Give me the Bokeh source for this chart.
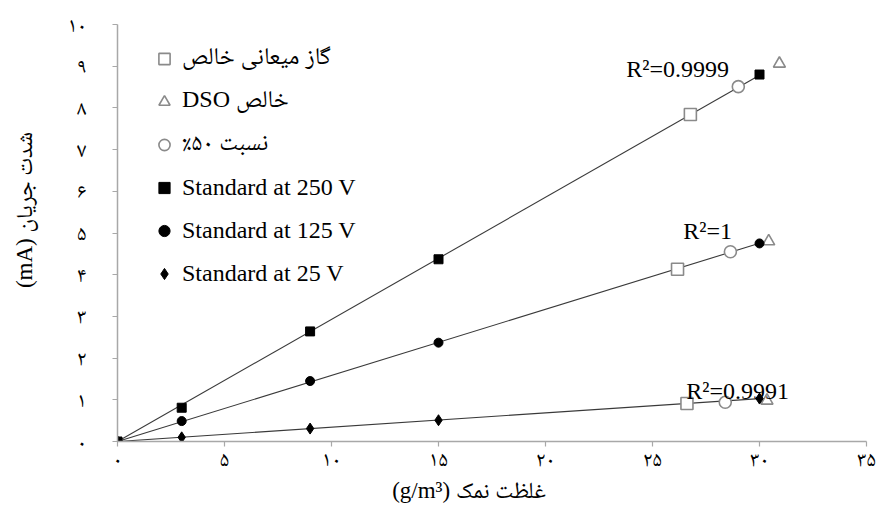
from bokeh.plotting import figure
from bokeh.models import Range1d, FixedTicker, Label, Legend, LegendItem
from bokeh.embed import file_html
from bokeh.resources import INLINE
import numpy as np

# ---- data ----
conc_std = [0, 3, 9, 15, 30]
i_250 = [0, 0.81, 2.64, 4.37, 8.80]
i_125 = [0, 0.49, 1.45, 2.37, 4.75]
i_25 = [0, 0.10, 0.31, 0.51, 1.03]

gas_x = [26.77, 26.17, 26.61]
gas_y = [7.84, 4.13, 0.91]
dso_x = [30.93, 30.43, 30.35]
dso_y = [9.06, 4.80, 0.98]
mix_x = [29.01, 28.64, 28.40]
mix_y = [8.51, 4.55, 0.94]

x_ticks = [0, 5, 10, 15, 20, 25, 30, 35]
x_tick_labels = ["۰", "۵", "۱۰", "۱۵", "۲۰", "۲۵", "۳۰", "۳۵"]
y_ticks = [0, 1, 2, 3, 4, 5, 6, 7, 8, 9, 10]
y_tick_labels = ["۰", "۱", "۲", "۳", "۴", "۵", "۶", "۷", "۸", "۹", "۱۰"]

legend_labels = ["گاز میعانی خالص", "DSO خالص", "٪۵۰ نسبت",
                 "Standard at 250 V", "Standard at 125 V", "Standard at 25 V"]
r2_texts = ["R²=0.9999", "R²=1", "R²=0.9991"]

FONT = "'Liberation Serif', 'Noto Naskh Arabic', 'Noto Serif', 'DejaVu Serif', serif"
GRAY = "#8a8a8a"
NB = "\u00a0"

p = figure(frame_width=749, frame_height=417,
           x_range=Range1d(0, 35), y_range=Range1d(0, 10),
           output_backend="svg", toolbar_location=None,
           min_border_left=117, min_border_right=17,
           min_border_top=24, min_border_bottom=62)
p.grid.visible = False
p.outline_line_color = None
p.background_fill_color = "white"
p.border_fill_color = "white"

# trend lines (least squares through origin)
xs = np.array(conc_std, dtype=float)
for ys in (i_250, i_125, i_25):
    ys = np.array(ys, dtype=float)
    k = float((xs * ys).sum() / (xs * xs).sum())
    xl = [xs.min(), xs.max()]
    p.line(xl, [k * v for v in xl], line_color="#3a3a3a", line_width=1.1)

r_gas = p.scatter(gas_x, gas_y, marker="square", size=12, fill_color="white",
                  line_color=GRAY, line_width=1.6)
r_dso = p.scatter(dso_x, dso_y, marker="triangle", size=12, fill_color="white",
                  line_color=GRAY, line_width=1.6)
r_mix = p.scatter(mix_x, mix_y, marker="circle", size=12, fill_color="white",
                  line_color=GRAY, line_width=1.6)
r_250 = p.scatter(conc_std, i_250, marker="square", size=9, color="black")
r_125 = p.scatter(conc_std, i_125, marker="circle", size=9, color="black")
r_25 = p.scatter(conc_std, i_25, marker="diamond", size=11, color="black")

items = [LegendItem(label=lab, renderers=[r]) for lab, r in
         zip(legend_labels, [r_gas, r_dso, r_mix, r_250, r_125, r_25])]
leg = Legend(items=items, location=(33, 146), margin=0, padding=0,
             glyph_width=28, glyph_height=43, label_height=43, spacing=0,
             label_standoff=4, label_text_font=FONT, label_text_font_size="24px",
             label_text_color="black", border_line_color=None,
             background_fill_alpha=0)
p.add_layout(leg, "center")

for txt, x, y in zip(r2_texts, [23.77, 26.44, 26.58], [8.94, 5.05, 1.22]):
    p.add_layout(Label(x=x, y=y, text=txt, text_font=FONT, text_font_size="24px",
                       text_baseline="middle", text_color="black"))

for ax, ticks, labs in ((p.xaxis[0], x_ticks, x_tick_labels),
                        (p.yaxis[0], y_ticks, y_tick_labels)):
    ax.ticker = FixedTicker(ticks=ticks)
    ax.major_label_overrides = dict(zip(ticks, labs))
    ax.axis_line_color = "#a8a8a8"
    ax.axis_line_width = 1.5
    ax.major_tick_line_color = "#a8a8a8"
    ax.major_tick_line_width = 1.2
    ax.major_tick_in = 0
    ax.major_tick_out = 5
    ax.minor_tick_line_color = None
    ax.major_label_text_font = FONT
    ax.major_label_text_font_size = "21px"
    ax.major_label_text_color = "black"
    ax.axis_label_text_font = FONT
    ax.axis_label_text_font_size = "23px"
    ax.axis_label_text_font_style = "normal"
    ax.axis_label_text_color = "black"

p.xaxis.axis_label = "(g/m³) غلظت نمک" + NB * 8
p.xaxis.major_label_standoff = 0
p.xaxis.axis_label_standoff = 4
p.yaxis.axis_label = NB * 8 + "(mA) شدت جریان"
p.yaxis.major_label_standoff = 26
p.yaxis.axis_label_standoff = 28

open("out.html", "w").write(file_html(p, INLINE))
